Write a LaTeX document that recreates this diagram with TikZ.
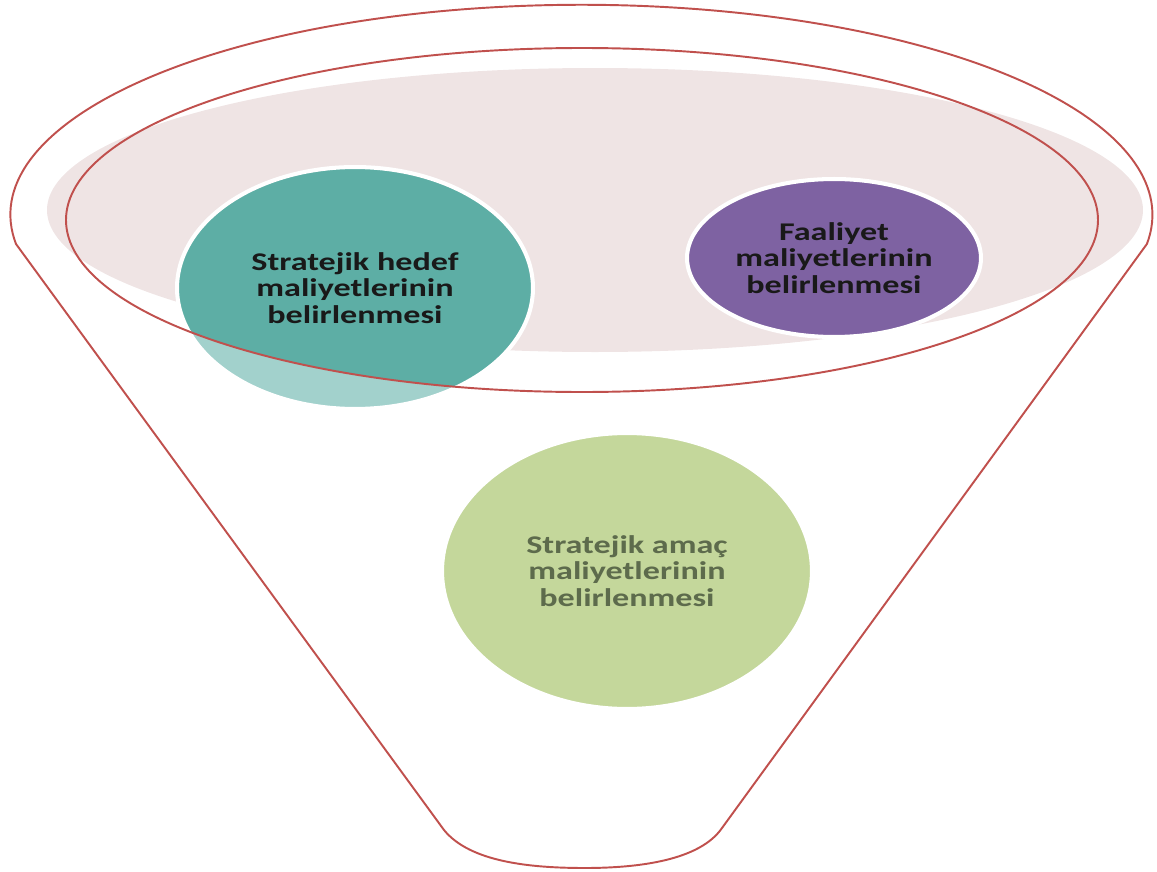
\documentclass[tikz,border=0pt]{standalone}
\usepackage{fontspec}
\usepackage{tikz}
\usetikzlibrary{shapes.geometric}
\newfontfamily\bubblefont[FakeStretch=1.34]{Carlito}
\definecolor{rimred}{HTML}{C0504D}
\definecolor{blush}{HTML}{EFE4E4}
\definecolor{tealdark}{HTML}{5DAEA5}
\definecolor{teallight}{HTML}{A2D1CC}
\definecolor{plum}{HTML}{7E62A2}
\definecolor{sage}{HTML}{C4D79B}
\definecolor{sagetext}{HTML}{5D6B4C}
\begin{document}
\begin{tikzpicture}[x=0.02cm, y=-0.02cm,
    bubble/.style={ellipse, draw=white, line width=2.3pt, inner sep=0pt, align=center,
        font=\bubblefont\bfseries\fontsize{14.5}{15.2}\selectfont},
    rim/.style={draw=rimred, line width=1.1pt}]
    \useasboundingbox (0,0) rectangle (1157,872);

    \coordinate (rimc) at (582,220);
    \fill[blush] (595,210) ellipse [x radius=548, y radius=142];

    \node [bubble, fill=teallight, minimum width=7.12cm, minimum height=4.84cm, text=black!90,
        path picture={\fill[tealdark] (rimc) ellipse [x radius=516, y radius=172];}]
        (hedef) at (355,288) {Stratejik hedef\\maliyetlerinin\\belirlenmesi};
    \node [bubble, fill=plum, minimum width=5.88cm, minimum height=3.16cm, text=black!90]
        (faaliyet) at (834,258) {Faaliyet\\maliyetlerinin\\belirlenmesi};
    \node [bubble, fill=sage, minimum width=7.4cm, minimum height=5.52cm, text=sagetext]
        (amac) at (627,571) {Stratejik amaç\\maliyetlerinin\\belirlenmesi};

    \draw [rim] (rimc) ellipse [x radius=516, y radius=172];
    \draw [rim] (16,244) arc [start angle=172, end angle=368, x radius=571, y radius=210]
        -- (722,828) .. controls (700,860) and (640,868) .. (585,868)
        .. controls (530,868) and (470,862) .. (444,830) -- cycle;
\end{tikzpicture}
\end{document}
